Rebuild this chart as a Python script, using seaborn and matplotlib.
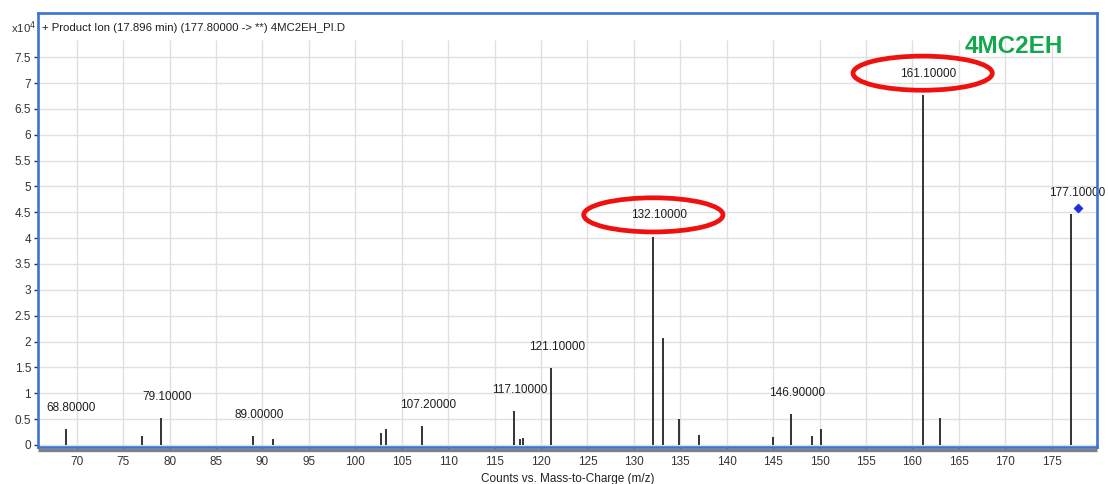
import matplotlib
matplotlib.use("Agg")
import matplotlib.pyplot as plt
from matplotlib.patches import Ellipse
from matplotlib.ticker import FuncFormatter
import seaborn as sns
import pandas as pd

# ---- data (intensity in units of 1e4 counts) ----
mz = [68.8, 77.0, 79.1, 89.0, 91.1, 102.8, 103.3, 107.2, 117.1, 117.7, 118.1,
      121.1, 132.1, 133.1, 134.9, 137.0, 145.0, 146.9, 149.2, 150.1, 161.1,
      163.0, 177.1]
intensity = [0.30, 0.175, 0.52, 0.175, 0.11, 0.24, 0.30, 0.37, 0.65, 0.11, 0.135,
             1.495, 4.03, 2.06, 0.505, 0.195, 0.155, 0.59, 0.175, 0.30, 6.77,
             0.525, 4.46]
labeled_mz = [68.8, 79.1, 89.0, 107.2, 117.1, 121.1, 132.1, 146.9, 161.1, 177.1]
highlight_mz = [132.1, 161.1]
precursor_mz = [177.8]
precursor_y = [4.58]
x_ticks = list(range(70, 180, 5))
y_ticks = [0, 0.5, 1, 1.5, 2, 2.5, 3, 3.5, 4, 4.5, 5, 5.5, 6, 6.5, 7, 7.5]
title_text = "+ Product Ion (17.896 min) (177.80000 -> **) 4MC2EH_PI.D"
compound = "4MC2EH"
x_label = "Counts vs. Mass-to-Charge (m/z)"

df = pd.DataFrame({"mz": mz, "intensity": intensity})
prec = pd.DataFrame({"mz": precursor_mz, "y": precursor_y})

sns.set_style("white")
plt.rcParams["font.family"] = ["Liberation Sans", "DejaVu Sans"]

fig = plt.figure(figsize=(11.08, 4.84), dpi=100)
ax = fig.add_axes([0.0343, 0.0771, 0.9558, 0.8967])

XMIN, XMAX = 65.83, 179.88
YMIN, YMAX = -0.033, 8.36
GRID_TOP = 7.83
ax.set_xlim(XMIN, XMAX)
ax.set_ylim(YMIN, YMAX)

# grid
grid_c = "#e0e0e0"
for yv in y_ticks:
    ax.axhline(yv, color=grid_c, lw=1.0, zorder=0)
ax.vlines(x_ticks, YMIN, GRID_TOP, color=grid_c, lw=1.0, zorder=0)

# stems
ax.vlines(df["mz"], 0, df["intensity"], color="#111111", lw=1.2, zorder=3)

# precursor marker
sns.scatterplot(data=prec, x="mz", y="y", marker="D", color="#1a2fe0", s=22,
                edgecolor="#1a2fe0", ax=ax, zorder=4, legend=False)

# labels
lookup = dict(zip(mz, intensity))
for v in labeled_mz:
    ax.annotate(f"{v:.5f}", xy=(v, lookup[v]), xytext=(4.3, 15.2),
                textcoords="offset points", ha="center", va="center",
                fontsize=8.5, color="#1e1e1e", annotation_clip=False, zorder=5)

# red ellipses
for v in highlight_mz:
    ax.add_patch(Ellipse((v, lookup[v] + 0.42), width=15.0, height=0.66,
                         fill=False, edgecolor="#f01010", lw=3.4, zorder=6))

# ticks
ax.set_xticks(x_ticks)
ax.set_yticks(y_ticks)
ax.yaxis.set_major_formatter(FuncFormatter(lambda v, p: f"{v:g}"))
ax.tick_params(axis="both", which="major", labelsize=8.5, colors="#333333",
               length=3, width=1, direction="out", pad=2,
               bottom=True, left=True)
ax.tick_params(axis="x", pad=4)
ax.set_xlabel(x_label, fontsize=8.5, color="#222222", labelpad=3)
ax.set_ylabel("")

# frame
for s in ax.spines.values():
    s.set_visible(True)
    s.set_color("#3b74d1")
    s.set_linewidth(1.9)
    s.set_zorder(7)

# gray axis line under the frame
ax.plot([0.0, 1.0], [-0.0075, -0.0075], transform=ax.transAxes, color="#808080",
        lw=2.4, clip_on=False, zorder=1, solid_capstyle="butt")

# header texts
ax.text(0.004, 0.965, title_text, transform=ax.transAxes, fontsize=8.2,
        color="#1e1e1e", ha="left", va="center")
fig.text(36 / 1108, 1 - 28 / 484, r"x10$^4$", fontsize=8.2, color="#333333",
         ha="right", va="center")
ax.text(0.9216, 0.921, compound, transform=ax.transAxes, fontsize=17.5,
        fontweight="bold", color="#14a84e", ha="center", va="center")

fig.savefig("out.png", dpi=100)
